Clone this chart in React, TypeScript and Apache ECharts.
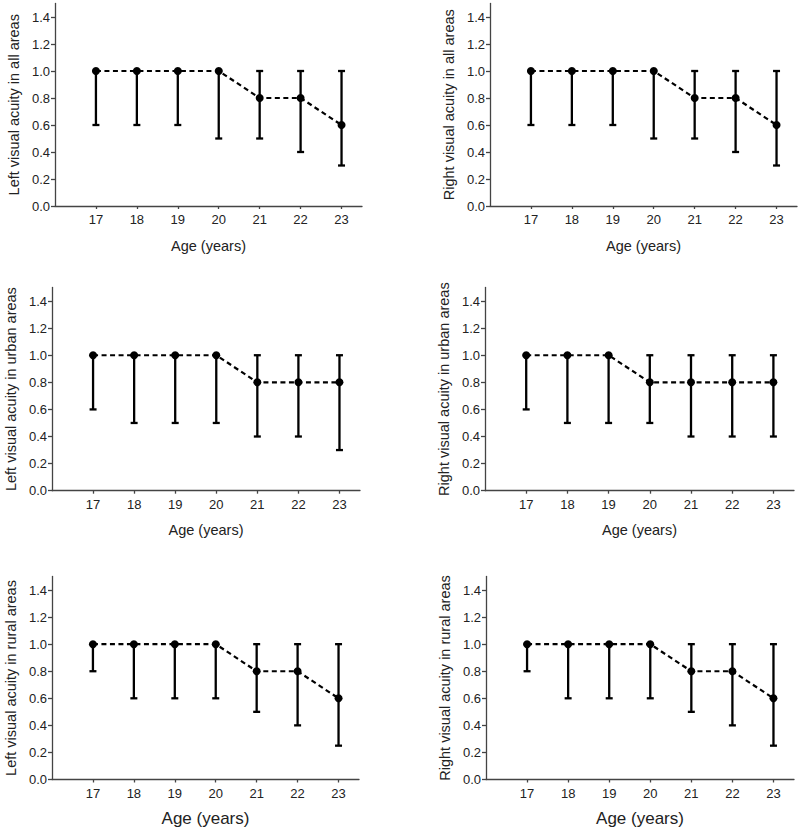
import React, { useEffect, useRef } from "react";
import * as echarts from "echarts";

const ages = [17, 18, 19, 20, 21, 22, 23];
const yTicks = [0, 0.2, 0.4, 0.6, 0.8, 1.0, 1.2, 1.4];

const panelTitles = [
  "Left visual acuity in all areas",
  "Right visual acuity in all areas",
  "Left visual acuity in urban areas",
  "Right visual acuity in urban areas",
  "Left visual acuity in rural areas",
  "Right visual acuity in rural areas",
];

const leftAllMedian = [1.0, 1.0, 1.0, 1.0, 0.8, 0.8, 0.6];
const leftAllLow = [0.6, 0.6, 0.6, 0.5, 0.5, 0.4, 0.3];
const leftAllHigh = [1.0, 1.0, 1.0, 1.0, 1.0, 1.0, 1.0];

const rightAllMedian = [1.0, 1.0, 1.0, 1.0, 0.8, 0.8, 0.6];
const rightAllLow = [0.6, 0.6, 0.6, 0.5, 0.5, 0.4, 0.3];
const rightAllHigh = [1.0, 1.0, 1.0, 1.0, 1.0, 1.0, 1.0];

const leftUrbanMedian = [1.0, 1.0, 1.0, 1.0, 0.8, 0.8, 0.8];
const leftUrbanLow = [0.6, 0.5, 0.5, 0.5, 0.4, 0.4, 0.3];
const leftUrbanHigh = [1.0, 1.0, 1.0, 1.0, 1.0, 1.0, 1.0];

const rightUrbanMedian = [1.0, 1.0, 1.0, 0.8, 0.8, 0.8, 0.8];
const rightUrbanLow = [0.6, 0.5, 0.5, 0.5, 0.4, 0.4, 0.4];
const rightUrbanHigh = [1.0, 1.0, 1.0, 1.0, 1.0, 1.0, 1.0];

const leftRuralMedian = [1.0, 1.0, 1.0, 1.0, 0.8, 0.8, 0.6];
const leftRuralLow = [0.8, 0.6, 0.6, 0.6, 0.5, 0.4, 0.25];
const leftRuralHigh = [1.0, 1.0, 1.0, 1.0, 1.0, 1.0, 1.0];

const rightRuralMedian = [1.0, 1.0, 1.0, 1.0, 0.8, 0.8, 0.6];
const rightRuralLow = [0.8, 0.6, 0.6, 0.6, 0.5, 0.4, 0.25];
const rightRuralHigh = [1.0, 1.0, 1.0, 1.0, 1.0, 1.0, 1.0];

const panels = [
  { median: leftAllMedian, low: leftAllLow, high: leftAllHigh },
  { median: rightAllMedian, low: rightAllLow, high: rightAllHigh },
  { median: leftUrbanMedian, low: leftUrbanLow, high: leftUrbanHigh },
  { median: rightUrbanMedian, low: rightUrbanLow, high: rightUrbanHigh },
  { median: leftRuralMedian, low: leftRuralLow, high: leftRuralHigh },
  { median: rightRuralMedian, low: rightRuralLow, high: rightRuralHigh },
];

const gridBoxes = [
  { left: 55, top: 3.5, width: 307, height: 202.5 },
  { left: 490, top: 3.5, width: 307, height: 202.5 },
  { left: 52, top: 287.5, width: 308, height: 203.2 },
  { left: 485, top: 287.5, width: 309, height: 203.2 },
  { left: 52, top: 576.5, width: 307, height: 203 },
  { left: 486, top: 576.5, width: 308, height: 203 },
];

const FONT = "'Liberation Sans', Arial, sans-serif";

export default function App() {
  const ref = useRef<HTMLDivElement>(null);

  useEffect(() => {
    if (!ref.current) return;
    const chart = echarts.init(ref.current, null, { renderer: "svg" });

    const grid = gridBoxes.map((g) => ({ ...g, containLabel: false }));

    const xAxis = gridBoxes.map((_, i) => ({
      type: "value",
      gridIndex: i,
      min: 16,
      max: 23.5,
      interval: 1,
      name: "Age (years)",
      nameLocation: "middle",
      nameGap: i >= 4 ? 30 : 32,
      nameTextStyle: {
        fontFamily: FONT,
        fontSize: i >= 4 ? 17 : 14.5,
        color: "#222",
      },
      splitLine: { show: false },
      axisLine: { show: true, lineStyle: { color: "#444", width: 1.3 } },
      axisTick: {
        show: true,
        length: 3,
        customValues: ages,
        lineStyle: { color: "#444", width: 1.3 },
      },
      axisLabel: {
        customValues: ages,
        margin: 7,
        fontFamily: FONT,
        fontSize: 13,
        color: "#222",
        formatter: (v: number) => String(v),
      },
    }));

    const yAxis = gridBoxes.map((_, i) => ({
      type: "value",
      gridIndex: i,
      min: 0,
      max: 1.5,
      interval: 0.2,
      name: panelTitles[i],
      nameLocation: "middle",
      nameGap: 34,
      nameTextStyle: { fontFamily: FONT, fontSize: 14.5, color: "#222" },
      splitLine: { show: false },
      axisLine: { show: true, lineStyle: { color: "#444", width: 1.3 } },
      axisTick: {
        show: true,
        length: 4,
        customValues: yTicks,
        lineStyle: { color: "#444", width: 1.3 },
      },
      axisLabel: {
        customValues: yTicks,
        margin: 5,
        fontFamily: FONT,
        fontSize: 13,
        color: "#222",
        formatter: (v: number) => v.toFixed(1),
      },
    }));

    const series: any[] = [];
    panels.forEach((p, i) => {
      series.push({
        type: "custom",
        xAxisIndex: i,
        yAxisIndex: i,
        encode: { x: 0, y: [1, 2] },
        data: ages.map((a, k) => [a, p.low[k], p.high[k]]),
        renderItem: (_params: any, api: any) => {
          const x = api.value(0);
          const top = api.coord([x, api.value(2)]);
          const bot = api.coord([x, api.value(1)]);
          const hw = 3.5;
          const st = { stroke: "#000", lineWidth: 2.3 };
          return {
            type: "group",
            children: [
              { type: "line", shape: { x1: top[0], y1: top[1], x2: bot[0], y2: bot[1] }, style: st },
              { type: "line", shape: { x1: top[0] - hw, y1: top[1], x2: top[0] + hw, y2: top[1] }, style: st },
              { type: "line", shape: { x1: bot[0] - hw, y1: bot[1], x2: bot[0] + hw, y2: bot[1] }, style: st },
            ],
          };
        },
        z: 2,
      });
      series.push({
        type: "line",
        xAxisIndex: i,
        yAxisIndex: i,
        data: ages.map((a, k) => [a, p.median[k]]),
        symbol: "circle",
        symbolSize: 8,
        itemStyle: { color: "#000" },
        lineStyle: { color: "#000", width: 2.2, type: [5, 3.5] },
        z: 3,
      });
    });

    chart.setOption({
      animation: false,
      backgroundColor: "#fff",
      grid,
      xAxis,
      yAxis,
      series,
    });

    return () => chart.dispose();
  }, []);

  return (
    <div
      ref={ref}
      style={{ position: "absolute", left: 0, top: 0, width: 800, height: 830 }}
    />
  );
}
